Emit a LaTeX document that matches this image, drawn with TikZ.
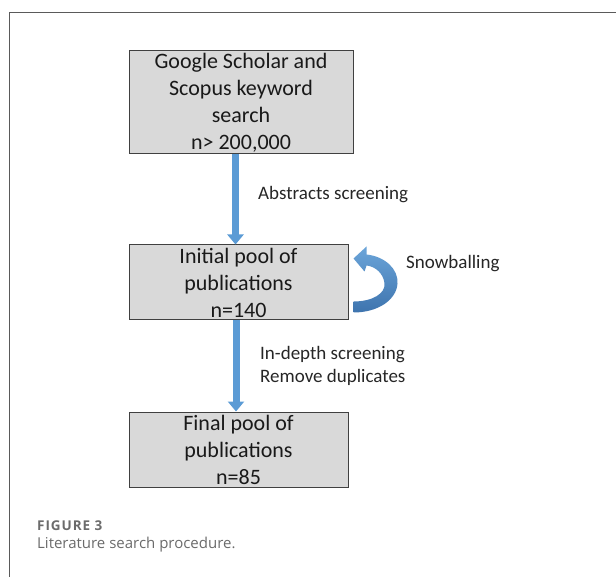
\documentclass[tikz,border=0pt]{standalone}
\usepackage{fontspec}
\setmainfont{Carlito}
\newfontfamily\capfont{Open Sans}
\newfontfamily\capfontsp[LetterSpace=7]{Open Sans}
\usetikzlibrary{arrows.meta}
\definecolor{boxfill}{HTML}{D9D9D9}
\definecolor{boxline}{HTML}{404040}
\definecolor{arrblue}{HTML}{5B9BD5}
\definecolor{arrdark}{HTML}{3E74AE}
\definecolor{capgray}{HTML}{6B6B6B}
\definecolor{framegray}{HTML}{5A5A5A}
\tikzset{
  flowbox/.style={draw=boxline, fill=boxfill, line width=1pt, inner sep=0pt, align=center,
    font=\fontsize{22}{27}\selectfont, text=black!90},
  flowarrow/.style={draw=arrblue, line width=7pt, -{Triangle[width=16pt,length=10pt]}},
  lbl/.style={font=\fontsize{19}{23}\selectfont, inner sep=0pt, text=black!85},
  capstyle/.style={inner sep=0pt, text=capgray, anchor=west}
}
\begin{document}
\begin{tikzpicture}[x=1pt,y=-1pt]
\useasboundingbox (0,0) rectangle (616,577);
% frame
\coordinate (fa) at (9,577);
\coordinate (fb) at (9,12.5);
\coordinate (fc) at (616,12.5);
\draw[framegray, line width=1pt] (fa) -- (fb) -- (fc);
% boxes
\node[flowbox, minimum width=224pt, minimum height=103pt] (b1) at (241,102.5)
  {Google Scholar and\\Scopus keyword\\search\\n> 200,000};
\node[flowbox, minimum width=219pt, minimum height=75pt] (b2) at (238.5,282.5)
  {Initial pool of\\publications\\n=140};
\node[flowbox, minimum width=219pt, minimum height=75pt] (b3) at (238.5,449.5)
  {Final pool of\\publications\\n=85};
% arrows
\coordinate (c1) at (235.5,0);
\coordinate (c2) at (236,0);
\draw[flowarrow] (b1.south -| c1) -- (b2.north -| c1);
\draw[flowarrow] (b2.south -| c2) -- (b3.north -| c2);
% snowballing curved arrow
\begin{scope}[shift={(b2.north east)}]
\shade[top color=arrblue!90!white, bottom color=arrdark, shading angle=0]
  (5,57) .. controls (24,57) and (37,49) .. (36,39)
  .. controls (35,29) and (27,22) .. (18,21)
  -- (16,27) -- (5,14) -- (18,2) -- (18,10)
  .. controls (37,12) and (50,25) .. (49,39)
  .. controls (48,55) and (30,68) .. (5,68) -- cycle;
\end{scope}
% labels
\node[lbl, anchor=west] (l1) at (258,195) {Abstracts screening};
\node[lbl, anchor=west] (l2) at (406,264) {Snowballing};
\node[lbl, anchor=west, align=left] (l3) at (260,366) {In-depth screening\\Remove duplicates};
% caption
\node[capstyle, font=\capfontsp\bfseries\fontsize{13.5}{15}\selectfont] (fig) at (37,526) {FIGURE 3};
\node[capstyle, font=\capfont\fontsize{15}{18}\selectfont] (cap) at (37,545) {Literature search procedure.};
\end{tikzpicture}
\end{document}
